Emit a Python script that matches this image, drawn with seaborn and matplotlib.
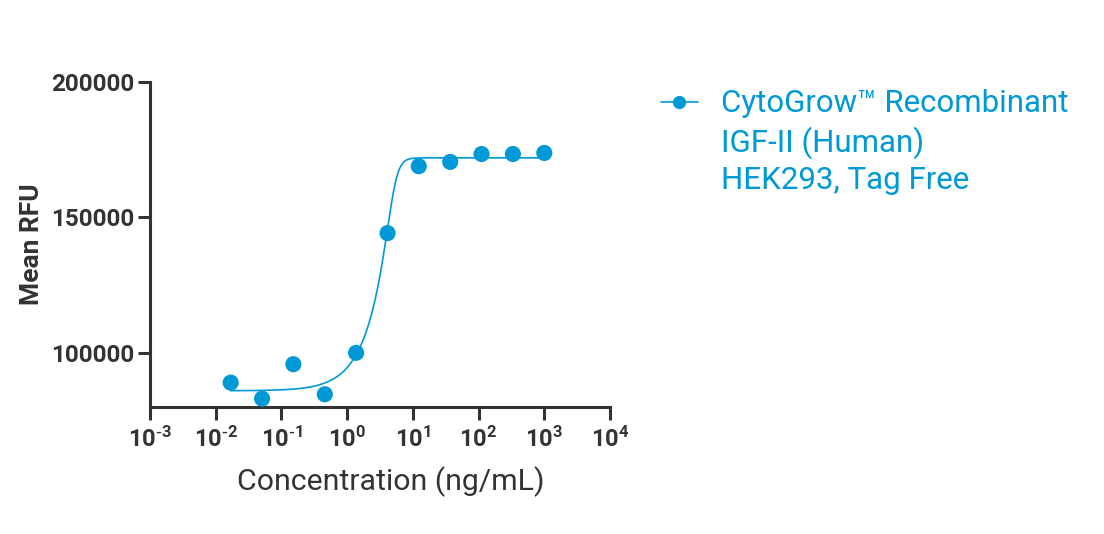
import numpy as np
import pandas as pd
import matplotlib
matplotlib.use("Agg")
import matplotlib.pyplot as plt
from matplotlib.lines import Line2D
import seaborn as sns

# 3-fold dilution series, ng/mL
conc = [0.0169, 0.0508, 0.152, 0.457, 1.37, 4.12, 12.3, 37.0, 111.0, 333.0, 1000.0]
rfu = [89000, 83100, 95800, 84700, 100000, 144200, 168900, 170500, 173400, 173400, 173800]

# fitted curve parameters (asymmetric 5PL)
bottom = 86000
top = 172000
ec = 5.2
hill = 7.0
asym = 0.2

series_lines = ["CytoGrow\u2122 Recombinant", "IGF-II (Human)", "HEK293, Tag Free"]
blue = "#0099d8"
dark = "#333333"

xticks = [1e-3, 1e-2, 1e-1, 1e0, 1e1, 1e2, 1e3, 1e4]
xtick_labels = []
for t in xticks:
    p = int(np.log10(t))
    sup = (r"\text{-}%d" % -p) if p < 0 else str(p)
    xtick_labels.append(r"$\mathregular{10^{%s}}$" % sup)
yticks = [100000, 150000, 200000]

sns.set_style("ticks")
plt.rcParams["font.family"] = ["Roboto", "DejaVu Sans"]

df = pd.DataFrame({"conc": conc, "rfu": rfu})
xs = np.logspace(np.log10(conc[0]), np.log10(conc[-1]), 400)
fit = pd.DataFrame({"conc": xs,
                    "rfu": bottom + (top - bottom) / (1 + (ec / xs) ** hill) ** asym})

fig = plt.figure(figsize=(11.04, 5.34), dpi=100)
ax = fig.add_axes([150 / 1104, 1 - 407 / 534, 460 / 1104, 325 / 534])

sns.lineplot(data=fit, x="conc", y="rfu", color=blue, lw=1.2, ax=ax)
sns.scatterplot(data=df, x="conc", y="rfu", color=blue, s=135, edgecolor="none",
                zorder=3, clip_on=False, ax=ax)

ax.set_xscale("log")
ax.set_xlim(1e-3, 1e4)
ax.set_ylim(80000, 200000)
ax.set_xticks(xticks)
ax.set_xticklabels(xtick_labels)
ax.minorticks_off()
ax.set_yticks(yticks)
ax.set_yticklabels([str(v) for v in yticks])

for s in ["left", "bottom"]:
    ax.spines[s].set_linewidth(2.2)
    ax.spines[s].set_color(dark)
sns.despine(ax=ax)
ax.tick_params(axis="both", length=9, width=2.2, color=dark, labelcolor=dark)
ax.tick_params(axis="x", pad=5, labelsize=17)
ax.tick_params(axis="y", pad=2.5, labelsize=17.5)
for lab in ax.get_xticklabels() + ax.get_yticklabels():
    lab.set_fontweight("bold")

ax.set_xlabel("Concentration (ng/mL)", fontsize=21.8, color=dark)
ax.xaxis.set_label_coords((391 - 150) / 460, -0.184)
ax.set_ylabel("Mean RFU", fontsize=19, fontweight="bold", color=dark)
ax.yaxis.set_label_coords(-(150 - 44) / 460, 0.5)

# legend: marker on the first line only, the other lines get blank handles
handle = Line2D([], [], color=blue, lw=1.2, marker="o", markersize=9.5,
                markeredgewidth=0)
blank = Line2D([], [], color="none")
fig.legend([handle, blank, blank], series_lines, loc="upper left",
           bbox_to_anchor=(648 / 1104, 1 - 77 / 534), frameon=False,
           fontsize=22.5, labelcolor=blue, handlelength=1.2, handletextpad=0.74,
           labelspacing=0.245, borderaxespad=0)

fig.savefig("out.png", dpi=100)
